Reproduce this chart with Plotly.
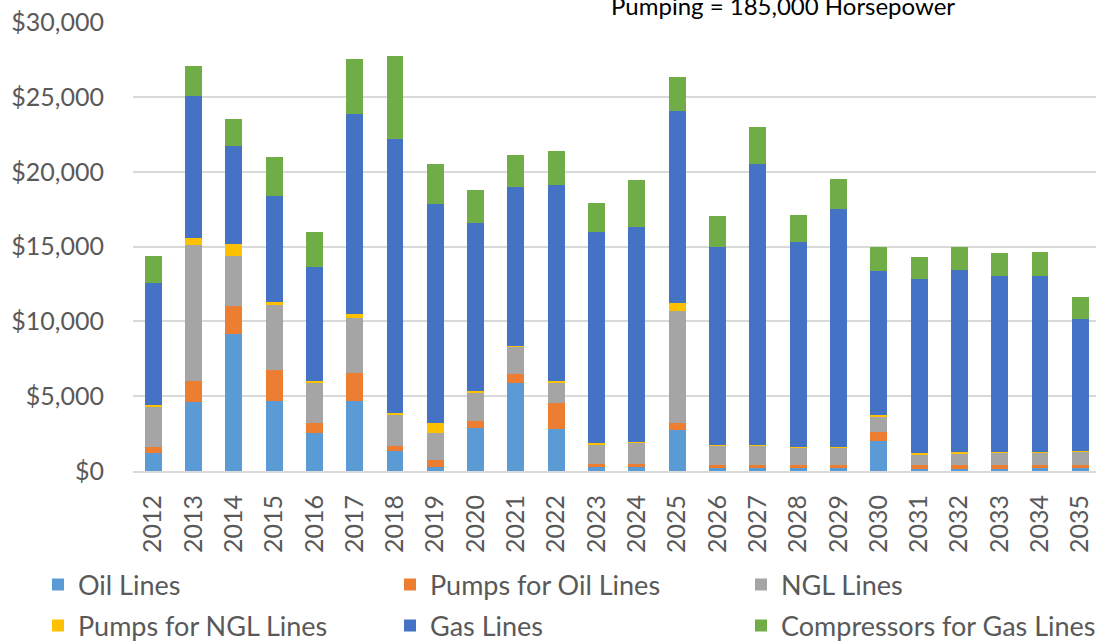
import plotly.graph_objects as go

years = [str(y) for y in range(2012, 2036)]

oil_lines = [1200, 4640, 9190, 4700, 2560, 4700, 1350, 260, 2890, 5860, 2830, 280,
             280, 2760, 210, 210, 210, 210, 2020, 150, 150, 150, 210, 210]
pumps_oil = [400, 1400, 1810, 2080, 670, 1880, 340, 490, 470, 650, 1700, 200,
             220, 470, 200, 200, 200, 200, 600, 270, 270, 270, 200, 200]
ngl_lines = [2680, 9050, 3350, 4310, 2700, 3620, 2080, 1810, 1880, 1790, 1370, 1320,
             1390, 7500, 1320, 1290, 1160, 1160, 1000, 670, 740, 800, 800, 870]
pumps_ngl = [110, 470, 800, 180, 70, 270, 130, 670, 130, 50, 90, 90,
             70, 470, 40, 50, 50, 50, 130, 130, 130, 70, 70, 70]
gas_lines = [8170, 9520, 6570, 7100, 7640, 13400, 18310, 14600, 11190, 10630, 13130, 14070,
             14330, 12860, 13240, 18750, 13660, 15870, 9650, 11590, 12120, 11720, 11790, 8840]
compressors = [1790, 2010, 1810, 2610, 2330, 3680, 5540, 2680, 2210, 2140, 2280, 1940,
               3150, 2280, 2010, 2480, 1810, 2010, 1610, 1470, 1540, 1540, 1540, 1470]

series_names = ["Oil Lines", "Pumps for Oil Lines", "NGL Lines",
                "Pumps for NGL Lines", "Gas Lines", "Compressors for Gas Lines"]
series_values = [oil_lines, pumps_oil, ngl_lines, pumps_ngl, gas_lines, compressors]
series_colors = ["#5B9BD5", "#ED7D31", "#A5A5A5", "#FFC000", "#4472C4", "#70AD47"]

FONT = "Lato, 'Liberation Sans', sans-serif"
W, H = 1096, 641
ML, MR, MT, MB = 133, 0, 22, 170

# legend slots: (column left px, row centre px)
legend_cols = [38, 390, 741]
legend_rows = [585, 626]

fig = go.Figure()
legend_layouts = {}
for i, (name, vals, color) in enumerate(zip(series_names, series_values, series_colors)):
    key = "legend" if i == 0 else f"legend{i + 1}"
    fig.add_trace(go.Bar(x=years, y=vals, name=name, showlegend=True,
                         marker=dict(color=color, line=dict(width=0)),
                         legend=key))
    legend_layouts[key] = dict(
        orientation="h", xref="container", yref="container",
        xanchor="left", yanchor="middle", visible=True,
        x=legend_cols[i % 3] / W, y=1 - legend_rows[i // 3] / H,
        font=dict(family=FONT, size=27, color="#595959"),
        bgcolor="rgba(0,0,0,0)", borderwidth=0)

fig.update_layout(
    width=W, height=H, showlegend=True,
    margin=dict(l=ML, r=MR, t=MT, b=MB, autoexpand=False),
    paper_bgcolor="white", plot_bgcolor="white",
    barmode="stack", bargap=0.58,
    font=dict(family=FONT, color="#595959"),
    xaxis=dict(type="category", range=[-0.5, 23.39], tickangle=-90,
               tickfont=dict(family=FONT, size=25, color="#595959"),
               showline=True, linecolor="#D9D9D9", linewidth=2,
               showgrid=False, ticks="", ticklabelstandoff=12, automargin=False),
    yaxis=dict(range=[0, 30020], tick0=0, dtick=5000,
               tickprefix="$", tickformat=",",
               tickfont=dict(family=FONT, size=25, color="#595959"),
               showgrid=True, gridcolor="#D9D9D9", gridwidth=2,
               zeroline=False, ticks="", ticklabelstandoff=28, automargin=False),
    **legend_layouts,
)

# white text box in the top-right corner hiding the top gridline
fig.add_shape(type="rect", xref="paper", yref="paper",
              x0=(407 - ML) / (W - ML - MR), x1=1.01,
              y0=(H - MB - 38) / (H - MB - MT), y1=1.2,
              fillcolor="white", line=dict(width=0), layer="above")
fig.add_annotation(xref="paper", yref="paper",
                   x=(783 - ML) / (W - ML - MR), y=(H - MB - 5) / (H - MB - MT),
                   xanchor="center", yanchor="middle", showarrow=False,
                   text="Pumping = 185,000 Horsepower",
                   font=dict(family=FONT, size=24, color="#000000"))

fig.write_html("out.html", config={"displayModeBar": False},
               post_script="document.body.style.margin='0';document.body.style.overflow='hidden';")
